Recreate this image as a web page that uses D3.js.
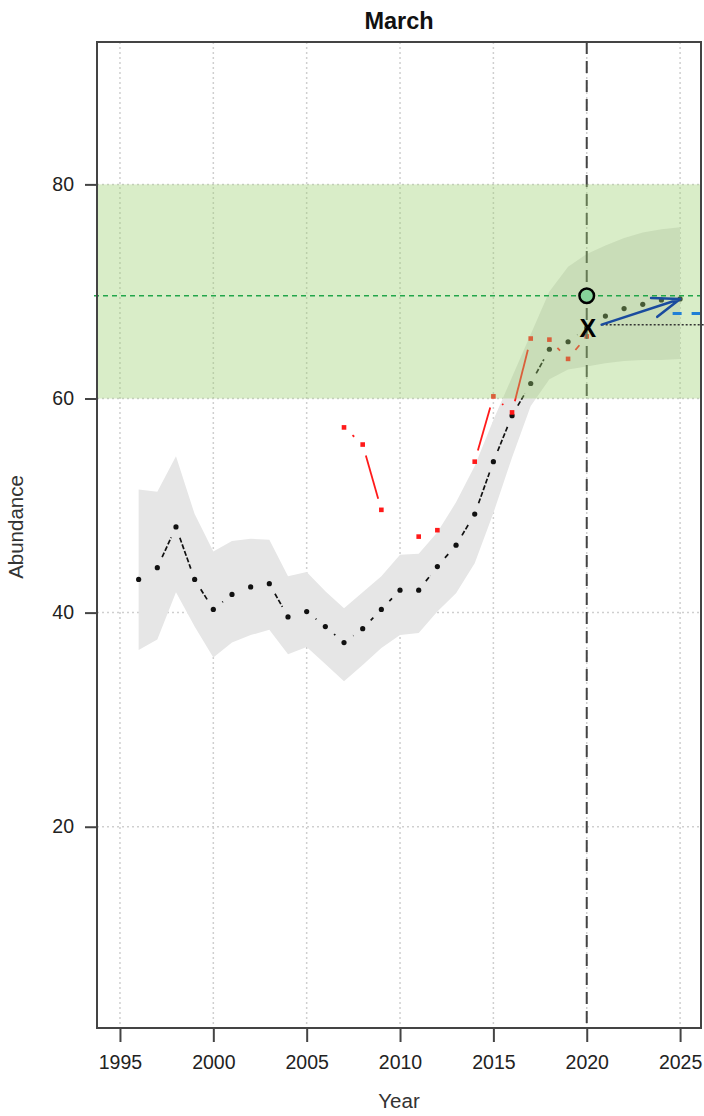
<!DOCTYPE html>
<html>
<head>
<meta charset="utf-8">
<script src="https://cdn.jsdelivr.net/npm/d3@7"></script>
<style>
  body { margin: 0; background: white; }
  text { font-family: "Liberation Sans", Arial, sans-serif; }
</style>
</head>
<body>
<svg id="chart"></svg>
<script>
// years of the series
var years = [1996, 1997, 1998, 1999, 2000, 2001, 2002, 2003, 2004, 2005,
             2006, 2007, 2008, 2009, 2010, 2011, 2012, 2013, 2014, 2015,
             2016, 2017, 2018, 2019, 2020, 2021, 2022, 2023, 2024, 2025]
// fitted abundance (black)
var fitted = [43.1, 44.2, 48.0, 43.1, 40.3, 41.7, 42.4, 42.7, 39.6, 40.1,
              38.7, 37.2, 38.5, 40.3, 42.1, 42.1, 44.3, 46.3, 49.2, 54.1,
              58.4, 61.4, 64.6, 65.3, 66.6, 67.7, 68.4, 68.8, 69.2, 69.3]
// confidence band
var bandUpper = [51.5, 51.3, 54.6, 49.2, 45.7, 46.7, 46.9, 46.8, 43.4, 43.8,
                 42.0, 40.4, 41.9, 43.4, 45.4, 45.5, 47.5, 50.3, 53.7, 58.0,
                 62.0, 66.0, 70.0, 72.3, 73.5, 74.3, 75.0, 75.5, 75.8, 76.0]
var bandLower = [36.5, 37.5, 41.9, 38.7, 35.8, 37.2, 37.9, 38.4, 36.1, 36.8,
                 35.2, 33.6, 35.1, 36.7, 37.9, 38.1, 40.1, 41.8, 44.6, 49.3,
                 54.5, 59.3, 61.8, 62.7, 63.0, 63.3, 63.5, 63.6, 63.6, 63.7]
// observed survey values (red)
var obsYears = [2007, 2008, 2009, 2010, 2011, 2012, 2013, 2014, 2015, 2016, 2017, 2018, 2019, 2020]
var observed = [57.3, 55.7, 49.6, null, 47.1, 47.7, null, 54.1, 60.2, 58.7, 65.6, 65.5, 63.7, 65.8]

// reference values
var targetBand = [60, 80]
var targetLine = 69.6
var currentYear = 2020
var arrowFrom = [2020.8, 66.9]
var arrowTo = [2025, 69.3]
var blueLevel = 67.95
var xTicks = [1995, 2000, 2005, 2010, 2015, 2020, 2025]
var yTicks = [20, 40, 60, 80]

var dimensions = {
    width: 704,
    height: 1116,
    margin: { top: 42, bottom: 88, left: 97, right: 3 }
}

var svg = d3.select("#chart")
    .attr("width", dimensions.width)
    .attr("height", dimensions.height)
    .style("background", "white")

var x = d3.scaleLinear()
    .domain([1993.77, 2026.12])
    .range([dimensions.margin.left, dimensions.width - dimensions.margin.right])
var y = d3.scaleLinear()
    .domain([1.2, 93.3])
    .range([dimensions.height - dimensions.margin.bottom, dimensions.margin.top])

var plotLeft = x.range()[0], plotRight = x.range()[1]
var plotTop = y.range()[1], plotBottom = y.range()[0]

// grid
svg.append("g").selectAll("line").data(xTicks).enter().append("line")
    .attr("x1", d => x(d)).attr("x2", d => x(d))
    .attr("y1", plotTop).attr("y2", plotBottom)
    .attr("stroke", "#cfcfcf").attr("stroke-width", 1.5).attr("stroke-dasharray", "2,3")
svg.append("g").selectAll("line").data(yTicks).enter().append("line")
    .attr("x1", plotLeft).attr("x2", plotRight)
    .attr("y1", d => y(d)).attr("y2", d => y(d))
    .attr("stroke", "#cfcfcf").attr("stroke-width", 1.5).attr("stroke-dasharray", "2,3")

// confidence band
var bandData = years.map((yr, i) => ({ yr: yr, lo: bandLower[i], hi: bandUpper[i] }))
svg.append("path")
    .datum(bandData)
    .attr("d", d3.area().x(d => x(d.yr)).y0(d => y(d.lo)).y1(d => y(d.hi)))
    .attr("fill", "#e6e6e6")

// R style type="b": segments with a gap round each point
function gappedSegments(xs, vals, gap) {
    var segs = []
    for (var i = 0; i < xs.length - 1; i++) {
        if (vals[i] == null || vals[i + 1] == null) continue
        var x1 = x(xs[i]), y1 = y(vals[i]), x2 = x(xs[i + 1]), y2 = y(vals[i + 1])
        var len = Math.hypot(x2 - x1, y2 - y1)
        if (len <= 2 * gap) continue
        var ux = (x2 - x1) / len, uy = (y2 - y1) / len
        segs.push([x1 + ux * gap, y1 + uy * gap, x2 - ux * gap, y2 - uy * gap])
    }
    return segs
}

svg.append("g").selectAll("line")
    .data(gappedSegments(years, fitted, 11.5))
    .enter().append("line")
    .attr("x1", d => d[0]).attr("y1", d => d[1]).attr("x2", d => d[2]).attr("y2", d => d[3])
    .attr("stroke", "#111").attr("stroke-width", 1.7).attr("stroke-dasharray", "5,2")

svg.append("g").selectAll("line")
    .data(gappedSegments(obsYears, observed, 11.5))
    .enter().append("line")
    .attr("x1", d => d[0]).attr("y1", d => d[1]).attr("x2", d => d[2]).attr("y2", d => d[3])
    .attr("stroke", "#ff1a1a").attr("stroke-width", 1.8)

svg.append("g").selectAll("circle")
    .data(years.map((yr, i) => [yr, fitted[i]]))
    .enter().append("circle")
    .attr("cx", d => x(d[0])).attr("cy", d => y(d[1]))
    .attr("r", 2.6).attr("fill", "#111")

svg.append("g").selectAll("rect")
    .data(obsYears.map((yr, i) => [yr, observed[i]]).filter(d => d[1] != null))
    .enter().append("rect")
    .attr("x", d => x(d[0]) - 2.3).attr("y", d => y(d[1]) - 2.3)
    .attr("width", 4.6).attr("height", 4.6).attr("fill", "#ff1a1a")

// current year line
svg.append("line")
    .attr("x1", x(currentYear)).attr("x2", x(currentYear))
    .attr("y1", plotTop).attr("y2", plotBottom)
    .attr("stroke", "#444").attr("stroke-width", 2).attr("stroke-dasharray", "12,7")

// target band on top, semi transparent
svg.append("rect")
    .attr("x", plotLeft).attr("width", plotRight - plotLeft)
    .attr("y", y(targetBand[1])).attr("height", y(targetBand[0]) - y(targetBand[1]))
    .attr("fill", "rgb(156,208,112)").attr("fill-opacity", 0.385)

svg.append("line")
    .attr("x1", plotLeft - 3).attr("x2", plotRight)
    .attr("y1", y(targetLine)).attr("y2", y(targetLine))
    .attr("stroke", "#22a64a").attr("stroke-width", 1.3).attr("stroke-dasharray", "5,4")

// dotted level and blue dashes on the right
svg.append("line")
    .attr("x1", x(arrowFrom[0])).attr("x2", dimensions.width + 5)
    .attr("y1", y(arrowFrom[1])).attr("y2", y(arrowFrom[1]))
    .attr("stroke", "#333").attr("stroke-width", 1.5).attr("stroke-dasharray", "2,2")
svg.append("line")
    .attr("x1", x(2024.6)).attr("x2", dimensions.width + 5)
    .attr("y1", y(blueLevel)).attr("y2", y(blueLevel))
    .attr("stroke", "#1f7fd6").attr("stroke-width", 3).attr("stroke-dasharray", "9,10")

// arrow
var ax1 = x(arrowFrom[0]), ay1 = y(arrowFrom[1]), ax2 = x(arrowTo[0]), ay2 = y(arrowTo[1])
var ang = Math.atan2(ay2 - ay1, ax2 - ax1)
var headLen = 29, headAng = 20 * Math.PI / 180
var arrowPath = d3.path()
arrowPath.moveTo(ax1, ay1); arrowPath.lineTo(ax2, ay2)
arrowPath.moveTo(ax2 - headLen * Math.cos(ang - headAng), ay2 - headLen * Math.sin(ang - headAng))
arrowPath.lineTo(ax2, ay2)
arrowPath.lineTo(ax2 - headLen * Math.cos(ang + headAng), ay2 - headLen * Math.sin(ang + headAng))
svg.append("path").attr("d", arrowPath.toString())
    .attr("fill", "none").attr("stroke", "#1a4b9e").attr("stroke-width", 2.6)
    .attr("stroke-linecap", "round").attr("stroke-linejoin", "round")

// target circle and current estimate
svg.append("circle")
    .attr("cx", x(currentYear)).attr("cy", y(targetLine)).attr("r", 7.3)
    .attr("fill", "#86d49a").attr("stroke", "#000").attr("stroke-width", 2.5)
svg.append("text")
    .attr("x", x(currentYear) + 1).attr("y", y(66.6))
    .attr("dy", "0.36em")
    .attr("text-anchor", "middle")
    .style("font-size", "25px").style("font-weight", "bold")
    .text("X")

// axes
var xAxis = svg.append("g")
    .attr("transform", `translate(0,${plotBottom})`)
    .call(d3.axisBottom(x).tickValues(xTicks).tickFormat(d3.format("d")).tickSize(14).tickPadding(13))
var yAxis = svg.append("g")
    .attr("transform", `translate(${plotLeft},0)`)
    .call(d3.axisLeft(y).tickValues(yTicks).tickSize(12).tickPadding(11))
;[xAxis, yAxis].forEach(g => {
    g.select(".domain").remove()
    g.selectAll(".tick line").attr("stroke", "#444").attr("stroke-width", 2)
    g.selectAll(".tick text")
        .style("font-family", "'Liberation Sans', Arial, sans-serif")
        .style("font-size", "19.5px").attr("fill", "#222")
})

// box
svg.append("rect")
    .attr("x", plotLeft).attr("y", plotTop)
    .attr("width", plotRight - plotLeft).attr("height", plotBottom - plotTop)
    .attr("fill", "none").attr("stroke", "#444").attr("stroke-width", 2)

// title and labels
svg.append("text")
    .attr("x", (plotLeft + plotRight) / 2).attr("y", 29)
    .attr("text-anchor", "middle")
    .style("font-size", "23.5px").style("font-weight", "bold").attr("fill", "#111")
    .text("March")
svg.append("text")
    .attr("x", (plotLeft + plotRight) / 2).attr("y", 1108)
    .attr("text-anchor", "middle")
    .style("font-size", "20.5px").attr("fill", "#333")
    .text("Year")
svg.append("text")
    .attr("transform", "translate(23,527) rotate(-90)")
    .attr("text-anchor", "middle")
    .style("font-size", "20.5px").attr("fill", "#333")
    .text("Abundance")
</script>
</body>
</html>
